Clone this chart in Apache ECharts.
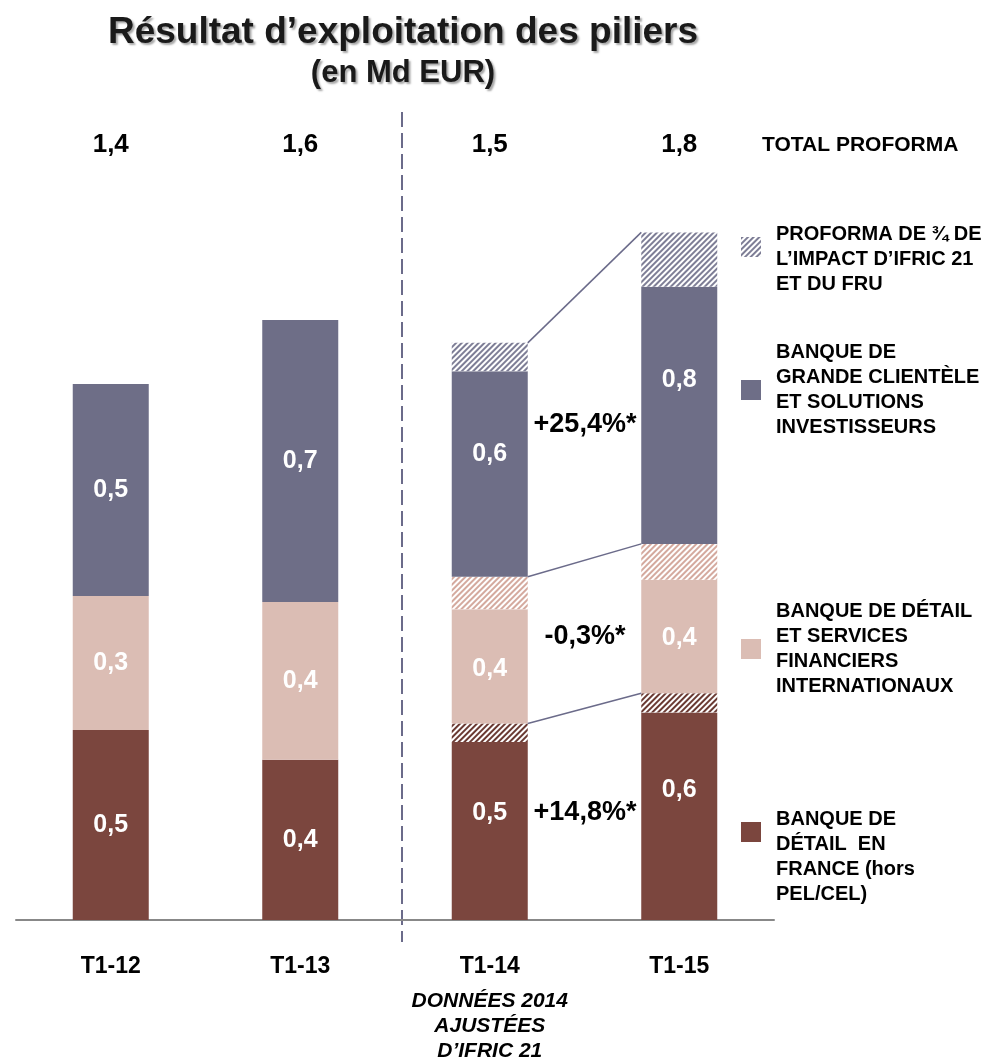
<!DOCTYPE html>
<html>
<head>
<meta charset="utf-8">
<script src="https://cdn.jsdelivr.net/npm/echarts@6/dist/echarts.min.js"></script>
<style>
html,body{margin:0;padding:0;background:#fff;}
#main{width:996px;height:1064px;}
</style>
</head>
<body>
<div id="main"></div>
<script>
// ---- data ----
const categories = ['T1-12', 'T1-13', 'T1-14', 'T1-15'];
const totals = ['1,4', '1,6', '1,5', '1,8'];
const retailFrance = [0.497, 0.419, 0.466, 0.543];
const retailFranceProforma = [0, 0, 0.048, 0.050];
const intlRetail = [0.351, 0.413, 0.299, 0.297];
const intlRetailProforma = [0, 0, 0.085, 0.094];
const cib = [0.554, 0.738, 0.538, 0.673];
const cibProforma = [0, 0, 0.074, 0.142];
const retailFranceLabels = ['0,5', '0,4', '0,5', '0,6'];
const intlRetailLabels = ['0,3', '0,4', '0,4', '0,4'];
const cibLabels = ['0,5', '0,7', '0,6', '0,8'];
const growthLabels = ['+14,8%*', '-0,3%*', '+25,4%*'];
const legendNames = {
  proforma: 'PROFORMA DE ¾ DE\nL’IMPACT D’IFRIC 21\nET DU FRU',
  cib: 'BANQUE DE\nGRANDE CLIENTÈLE\nET SOLUTIONS\nINVESTISSEURS',
  intl: 'BANQUE DE DÉTAIL\nET SERVICES\nFINANCIERS\nINTERNATIONAUX',
  france: 'BANQUE DE\nDÉTAIL  EN\nFRANCE (hors\nPEL/CEL)'
};

// ---- styles ----
const FONT = '"Liberation Sans", Arial, sans-serif';
const C_DARK = '#7b463e', C_PINK = '#dbbdb4', C_GREY = '#6e6e87';
const C_DARK_H = '#6a3a33', C_PINK_H = '#d4a99e', C_GREY_H = '#7e7e96';
const BAR_W = 76;

function hatch(col) {
  return {
    color: '#ffffff',
    decal: { symbol: 'rect', symbolSize: 1, dashArrayX: [1, 0], dashArrayY: [2, 2], rotation: -Math.PI / 4, color: col }
  };
}
function labelled(values, labels, offsets) {
  return values.map((v, i) => ({
    value: v,
    label: { formatter: labels[i], offset: [0, offsets[i]] }
  }));
}
const inLabel = { show: true, position: 'inside', color: '#fff', fontFamily: FONT, fontWeight: 'bold', fontSize: 25 };

// cumulative tops of each proforma layer for T1-14 and T1-15
function cum(arrs, i) { return arrs.reduce((s, a) => s + a[i], 0); }
const layers = [
  [retailFrance, retailFranceProforma],
  [retailFrance, retailFranceProforma, intlRetail, intlRetailProforma],
  [retailFrance, retailFranceProforma, intlRetail, intlRetailProforma, cib, cibProforma]
];
const connectors = layers.map(l => [cum(l, 2), cum(l, 3)]);

function legendBlock(name, top, blankLines) {
  return {
    data: [{ name: name, icon: 'rect' }],
    left: 741, top: top, padding: 0,
    orient: 'vertical', itemWidth: 20, itemHeight: 20, selectedMode: false,
    formatter: n => '\n'.repeat(blankLines) + n,
    textStyle: { fontFamily: FONT, fontWeight: 'bold', fontSize: 20, lineHeight: 25, color: '#000', padding: [0, 0, 0, 10] }
  };
}

const chart = echarts.init(document.getElementById('main'));
chart.setOption({
  animation: false,
  backgroundColor: '#fff',
  grid: { left: 16, right: 222, top: 232, bottom: 144, containLabel: false },
  xAxis: [
    {
      type: 'category', data: categories, position: 'bottom',
      axisLine: { lineStyle: { color: '#888', width: 2 } },
      axisTick: { show: false },
      axisLabel: {
        margin: 25,
        formatter: v => v === 'T1-14'
          ? '{a|' + v + '}\n{b|DONNÉES 2014}\n{b|AJUSTÉES}\n{b|D’IFRIC 21}'
          : '{a|' + v + '}',
        rich: {
          a: { fontFamily: FONT, fontWeight: 'bold', fontSize: 23, color: '#000', lineHeight: 44 },
          b: { fontFamily: FONT, fontWeight: 'bold', fontStyle: 'italic', fontSize: 21, color: '#000', lineHeight: 25 }
        }
      }
    },
    {
      type: 'category', data: categories, position: 'top',
      axisLine: { show: false }, axisTick: { show: false },
      axisLabel: {
        margin: 74, color: '#000', fontFamily: FONT, fontWeight: 'bold', fontSize: 26,
        formatter: (v, i) => totals[i]
      }
    }
  ],
  yAxis: { type: 'value', min: 0, max: 1.8, show: false },
  legend: [
    legendBlock(legendNames.proforma, 197, 1),
    legendBlock(legendNames.cib, 340, 0),
    legendBlock(legendNames.intl, 599, 0),
    legendBlock(legendNames.france, 757, 2)
  ],
  series: [
    { name: legendNames.france, type: 'bar', stack: 's', barWidth: BAR_W,
      itemStyle: { color: C_DARK }, label: inLabel,
      data: labelled(retailFrance, retailFranceLabels, [0, 0, -18, -26]) },
    { name: 'proforma-france', type: 'bar', stack: 's', barWidth: BAR_W,
      itemStyle: hatch(C_DARK_H), data: retailFranceProforma },
    { name: legendNames.intl, type: 'bar', stack: 's', barWidth: BAR_W,
      itemStyle: { color: C_PINK }, label: inLabel,
      data: labelled(intlRetail, intlRetailLabels, [0, 0, 3, 2]) },
    { name: 'proforma-intl', type: 'bar', stack: 's', barWidth: BAR_W,
      itemStyle: hatch(C_PINK_H), data: intlRetailProforma },
    { name: legendNames.cib, type: 'bar', stack: 's', barWidth: BAR_W,
      itemStyle: { color: C_GREY }, label: inLabel,
      data: labelled(cib, cibLabels, [0, 0, -20, -35]) },
    { name: legendNames.proforma, type: 'bar', stack: 's', barWidth: BAR_W,
      itemStyle: hatch(C_GREY_H), data: cibProforma },
    { name: 'connectors', type: 'custom', coordinateSystem: 'cartesian2d',
      encode: { x: 0, y: [1, 2] },
      data: connectors.map(c => [2, c[0], c[1]]),
      renderItem: (params, api) => {
        const p1 = api.coord([2, api.value(1)]);
        const p2 = api.coord([3, api.value(2)]);
        return { type: 'line',
          shape: { x1: p1[0] + BAR_W / 2, y1: p1[1], x2: p2[0] - BAR_W / 2, y2: p2[1] },
          style: { stroke: '#6b6b8a', lineWidth: 1.5 } };
      },
      z: 3 }
  ],
  graphic: [
    { type: 'text', x: 403, y: 33, style: {
      text: 'Résultat d’exploitation des piliers', align: 'center', verticalAlign: 'middle',
      font: 'bold 37px ' + FONT, fill: '#1a1a1a',
      textShadowColor: 'rgba(0,0,0,0.35)', textShadowOffsetX: 2, textShadowOffsetY: 2, textShadowBlur: 2 } },
    { type: 'text', x: 403, y: 73, style: {
      text: '(en Md EUR)', align: 'center', verticalAlign: 'middle',
      font: 'bold 31px ' + FONT, fill: '#1a1a1a',
      textShadowColor: 'rgba(0,0,0,0.35)', textShadowOffsetX: 2, textShadowOffsetY: 2, textShadowBlur: 2 } },
    { type: 'text', x: 762, y: 145, style: {
      text: 'TOTAL PROFORMA', align: 'left', verticalAlign: 'middle',
      font: 'bold 21px ' + FONT, fill: '#000' } },
    { type: 'line', shape: { x1: 402, y1: 112, x2: 402, y2: 942 },
      style: { stroke: '#6b6b8a', lineWidth: 2, lineDash: [15, 6] } },
    { type: 'text', x: 585, y: 425, style: { text: growthLabels[2], align: 'center', verticalAlign: 'middle', font: 'bold 27px ' + FONT, fill: '#000' } },
    { type: 'text', x: 585, y: 637, style: { text: growthLabels[1], align: 'center', verticalAlign: 'middle', font: 'bold 27px ' + FONT, fill: '#000' } },
    { type: 'text', x: 585, y: 813, style: { text: growthLabels[0], align: 'center', verticalAlign: 'middle', font: 'bold 27px ' + FONT, fill: '#000' } }
  ]
});
</script>
</body>
</html>
